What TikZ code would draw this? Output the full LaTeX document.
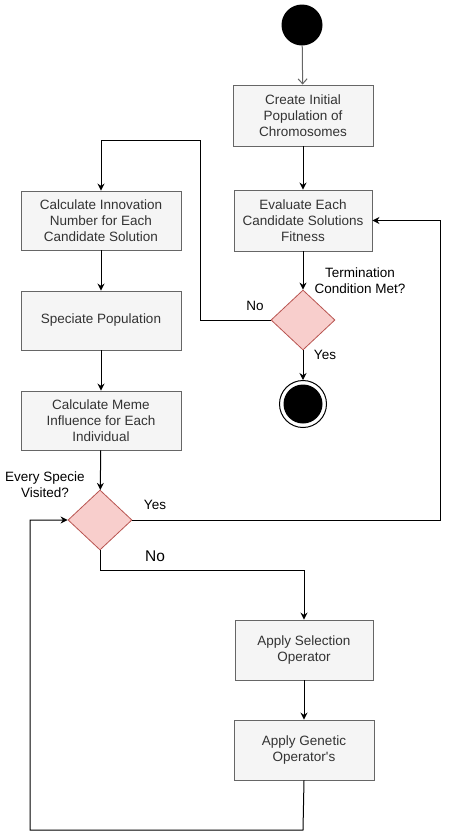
\documentclass[tikz,border=0pt]{standalone}
\usepackage{fontspec}
\setmainfont{Liberation Sans}
\newfontfamily\plainfont{Liberation Sans}
\usetikzlibrary{shapes.geometric,arrows.meta}
\definecolor{boxfill}{HTML}{F5F5F5}
\definecolor{boxdraw}{HTML}{666666}
\definecolor{boxtext}{HTML}{333333}
\definecolor{decfill}{HTML}{F8CECC}
\definecolor{decdraw}{HTML}{B85450}
\tikzset{
  stepbox/.style={rectangle, draw=boxdraw, fill=boxfill, text=boxtext, line width=0.9pt,
    minimum width=140pt, minimum height=60pt, align=center, inner sep=2pt,
    font=\fontsize{13.5}{16.3}\selectfont},
  decision/.style={diamond, draw=decdraw, fill=decfill, line width=0.8pt,
    minimum width=64pt, minimum height=60pt, inner sep=0pt},
  lbl/.style={align=center, text=black, inner sep=0pt, font=\fontsize{13.5}{16.3}\selectfont},
  conn/.style={line width=1pt, -{Stealth[length=7pt,width=7pt]}},
  plain/.style={line width=1pt}
}
\begin{document}
\begin{tikzpicture}[x=1pt,y=-1pt]
\useasboundingbox (0,0) rectangle (449,839);
\node[circle, fill=black, minimum size=41pt, inner sep=0pt] (start) at (302,25) {};
\node[stepbox, minimum width=140pt, minimum height=61pt] (b1) at (303,115.5) {Create Initial\\Population of\\Chromosomes};
\node[stepbox, minimum width=138pt, minimum height=61pt] (b2) at (303,220.5) {Evaluate Each\\Candidate Solutions\\Fitness};
\node[decision] (d1) at (303,320) {};
\node[circle, draw=black, fill=white, line width=1pt, minimum size=47pt, inner sep=0pt] (end) at (303,404) {};
\node[circle, fill=black, minimum size=39pt, inner sep=0pt] (endin) at (303,404) {};
\node[stepbox, minimum width=160pt, minimum height=59pt] (b3) at (101,220.5) {Calculate Innovation\\Number for Each\\Candidate Solution};
\node[stepbox, minimum width=160pt, minimum height=59pt] (b4) at (101,320.5) {Speciate Population};
\node[stepbox, minimum width=160pt, minimum height=59pt] (b5) at (101,420.5) {Calculate Meme\\Influence for Each\\Individual};
\node[decision] (d2) at (100,520) {};
\node[stepbox, minimum width=138pt, minimum height=60pt] (b6) at (304,650) {Apply Selection\\Operator};
\node[stepbox, minimum width=140pt, minimum height=60pt] (b7) at (304,750) {Apply Genetic\\{\plainfont Operator's}};

\node[lbl] (l1) at (360,281) {Termination\\Condition Met?};
\node[lbl] (l2) at (255,306) {No};
\node[lbl] (l3) at (325,355) {Yes};
\node[lbl] (l4) at (45,485) {Every Specie\\Visited?};
\node[lbl] (l5) at (155,505) {Yes};
\node[lbl, font=\fontsize{15.5}{18}\selectfont] (l6) at (155,556) {No};

\coordinate (c1) at (200,140);
\coordinate (c2) at (440,520);
\coordinate (c3) at (100,570);
\coordinate (c4) at (303,830);
\coordinate (c5) at (30,830);

\draw[line width=1pt, -{Straight Barb[length=5pt,width=9pt]}, boxdraw] (start) -- (b1);
\draw[conn] (b1) -- (b2);
\draw[conn] (b2) -- (d1);
\draw[conn] (d1) -- (end);
\draw[conn] (d1.west) -| (c1) -| (b3.north);
\draw[conn] (b3) -- (b4);
\draw[conn] (b4) -- (b5);
\draw[conn] (b5) -- (d2);
\draw[conn] (d2.east) -- (c2) |- (b2.east);
\draw[conn] (d2.south) -- (c3) -| (b6.north);
\draw[conn] (b6) -- (b7);
\draw[conn] (b7.south) -- (c4) -- (c5) |- (d2.west);
\end{tikzpicture}
\end{document}
